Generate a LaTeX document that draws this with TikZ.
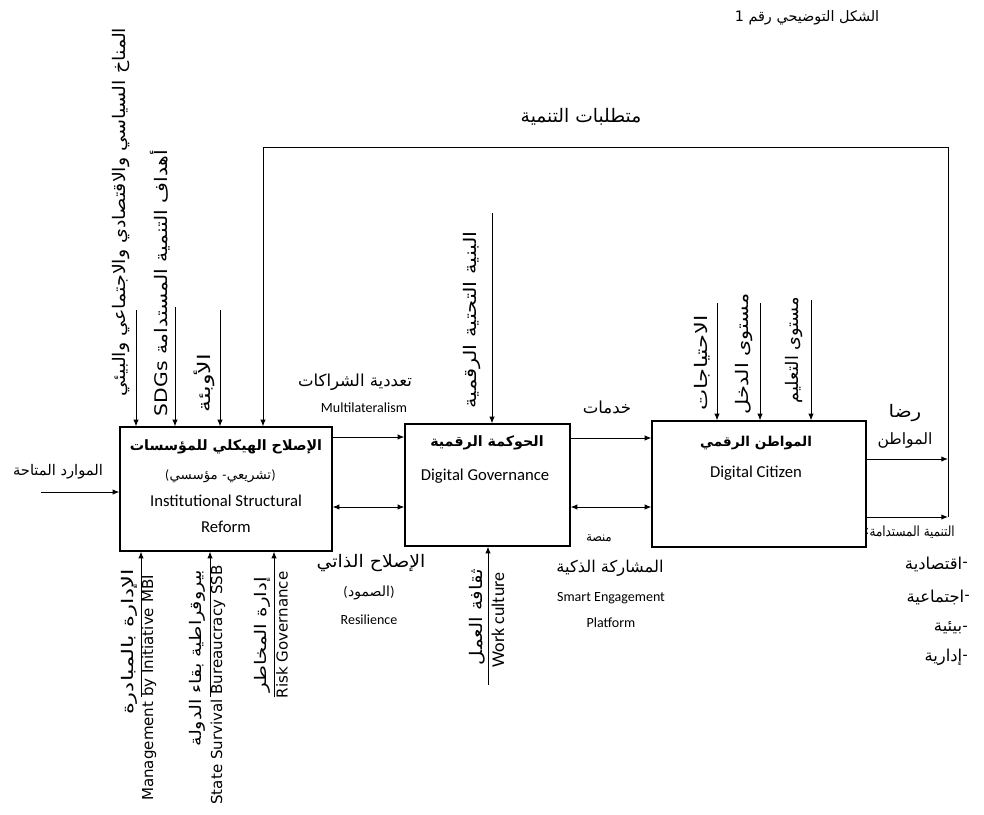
\documentclass[tikz,border=0pt]{standalone}
\usepackage{fontspec}
\usepackage{graphicx}
\setmainfont{Carlito}
\newfontfamily\ar[Script=Arabic]{DejaVu Sans}
\newfontfamily\dv{DejaVu Sans}
\TeXXeTstate=1
\usetikzlibrary{arrows.meta}
\newcommand{\AR}[1]{\mbox{\ar\beginR #1\endR}}
\newcommand{\sx}[2]{\scalebox{#1}[1]{#2}}
\newcommand{\fs}[1]{\fontsize{#1}{#1}\selectfont}
\tikzset{
  box/.style={draw, line width=0.9pt, inner sep=0pt},
  arr/.style={line width=0.75pt, -{Latex[length=5pt,width=4pt]}},
  darr/.style={line width=0.75pt, {Latex[length=5pt,width=4pt]}-{Latex[length=5pt,width=4pt]}},
  lbl/.style={inner sep=0pt},
  small/.style={inner sep=0pt, font=\fs{10.5}},
  en/.style={inner sep=0pt, font=\fs{12.5}},
  ttl/.style={inner sep=0pt, font=\fs{10.7}\bfseries},
  vl/.style={inner sep=0pt, rotate=90},
  ven/.style={inner sep=0pt, rotate=90, font=\dv\fs{11.3}},
  lst/.style={inner sep=0pt, font=\fs{12.3}, anchor=east},
  dsh/.style={inner sep=0pt, font=\fs{12.3}, anchor=east},
  pc/.style={inner sep=0pt, font=\fs{10}, anchor=east},
}
\begin{document}
\begin{tikzpicture}[x=0.75pt,y=-0.75pt]
\useasboundingbox (0,0) rectangle (984,814);
% boxes
\node[box, minimum width=159pt, minimum height=93pt] (b1) at (226,489) {};
\node[box, minimum width=123.75pt, minimum height=91.5pt] (b2) at (487.5,485) {};
\node[box, minimum width=160.5pt, minimum height=94.5pt] (b3) at (759,484) {};
% box texts
\node[ttl] (b1a) at (226,447) {\AR{الإصلاح الهيكلي للمؤسسات}};
\node[pc] (b1b5) at (276,477) {\strut)};
\node[pc] (b1b4) at (b1b5.west) {\AR{تشريعي}};
\node[pc] (b1b3) at (b1b4.west) {\strut-};
\node[pc] (b1b2) at ([xshift=-3pt]b1b3.west) {\AR{مؤسسي}};
\node[pc] (b1b1) at (b1b2.west) {\strut(};
\node[en] (b1c) at (226,501) {Institutional Structural};
\node[en] (b1d) at (226,527) {Reform};
\node[ttl] (b2a) at (487,443) {\AR{الحوكمة الرقمية}};
\node[en] (b2b) at (485,476) {Digital Governance};
\node[ttl, font=\fs{10.2}\bfseries] (b3a) at (756,443) {\AR{المواطن الرقمي}};
\node[en] (b3b) at (756,473) {Digital Citizen};
% title and requirements
\node[lbl, font=\fs{10.8}] (title) at (807,18) {\AR{الشكل التوضيحي رقم 1}};
\node[lbl, font=\fs{14}] (req) at (581,117) {\AR{متطلبات التنمية}};
% inputs above box 1
\coordinate (t1) at (136,310);
\coordinate (t2) at (175,307);
\coordinate (t3) at (220,310);
\draw[arr] (t1) -- (t1 |- b1.north);
\draw[arr] (t2) -- (t2 |- b1.north);
\draw[arr] (t3) -- (t3 |- b1.north);
\node[vl, font=\fs{13}] (v1) at (121,212) {\sx{1.1}{\AR{المناخ السياسي والاقتصادي والاجتماعي والبيئي}}};
\node[vl, font=\fs{13}] (v2) at (160,283) {\sx{1.17}{\AR{أهداف التنمية المستدامة \beginL SDGs\endL}}};
\node[vl, font=\fs{13}] (v3) at (204,383) {\sx{1.38}{\AR{الأوبئة}}};
% left input
\coordinate (l1) at (41,492);
\draw[arr] (l1) -- (l1 -| b1.west);
\node[lbl, font=\fs{11}] (res) at (58,472) {\AR{الموارد المتاحة}};
% controls below box 1
\coordinate (m1) at (141,697);
\coordinate (m2) at (210,697);
\coordinate (m3) at (274,697);
\draw[arr] (m1) -- (m1 |- b1.south);
\draw[arr] (m2) -- (m2 |- b1.south);
\draw[arr] (m3) -- (m3 |- b1.south);
\node[vl, font=\fs{12}] (m1a) at (129,642) {\sx{1.42}{\AR{الإدارة بالمبادرة}}};
\node[ven] (m1b) at (149,688) {Management by Initiative MBI};
\node[vl, font=\fs{12}] (m2a) at (197,658) {\sx{1.2}{\AR{بيروقراطية بقاء الدولة}}};
\node[ven] (m2b) at (218,685) {State Survival Bureaucracy SSB};
\node[vl, font=\fs{12}] (m3a) at (262,635) {\sx{1.25}{\AR{إدارة المخاطر}}};
\node[ven] (m3b) at (282,635) {Risk Governance};
% box1 <-> box2
\draw[arr] (b1.east |- 0,437) -- (b2.west |- 0,437);
\draw[darr] (b1.east |- 0,507) -- (b2.west |- 0,507);
\node[lbl, font=\fs{12.4}] (mla) at (355,382) {\AR{تعددية الشراكات}};
\node[small] (mlb) at (364,408) {Multilateralism};
\node[lbl, font=\fs{13}] (rsa) at (371,563) {\sx{1.09}{\AR{الإصلاح الذاتي}}};
\node[lbl, font=\fs{10.5}] (rsb) at (369,593) {\AR{الصمود}};
\node[lbl, font=\fs{10.5}, anchor=east] (rsb1) at (rsb.west) {\strut(};
\node[lbl, font=\fs{10.5}, anchor=west] (rsb2) at (rsb.east) {\strut)};
\node[small] (rsc) at (369,620) {Resilience};
% box2 top / bottom
\coordinate (g1) at (492,213);
\draw[arr] (g1) -- (g1 |- b2.north);
\node[vl, font=\fs{13}] (g1a) at (472,320) {\sx{1.22}{\AR{البنية التحتية الرقمية}}};
\coordinate (w1) at (488,685);
\draw[arr] (w1) -- (w1 |- b2.south);
\node[vl, font=\fs{13}] (w1a) at (477,617) {\sx{1.15}{\AR{ثقافة العمل}}};
\node[vl, font=\fs{13.5}] (w1b) at (498,620) {Work culture};
% box2 <-> box3
\draw[arr] (b2.east |- 0,438) -- (b3.west |- 0,438);
\draw[darr] (b2.east |- 0,507) -- (b3.west |- 0,507);
\node[lbl, font=\fs{12.4}] (srv) at (607,407) {\AR{خدمات}};
\node[lbl, font=\fs{10}] (sea) at (599,538) {\sx{0.85}{\AR{منصة}}};
\node[lbl, font=\fs{12.2}] (seb) at (610,568) {\AR{المشاركة الذكية}};
\node[small] (sec) at (611,598) {Smart Engagement};
\node[small] (sed) at (611,623) {Platform};
% box3 top
\coordinate (c1) at (717,303);
\coordinate (c2) at (760,303);
\coordinate (c3) at (811,300);
\draw[arr] (c1) -- (c1 |- b3.north);
\draw[arr] (c2) -- (c2 |- b3.north);
\draw[arr] (c3) -- (c3 |- b3.north);
\node[vl, font=\fs{13}] (c1a) at (702,363) {\sx{1.3}{\AR{الاحتياجات}}};
\node[vl, font=\fs{13}] (c2a) at (744,354) {\sx{1.2}{\AR{مستوى الدخل}}};
\node[vl, font=\fs{13}] (c3a) at (794,350) {\sx{1.02}{\AR{مستوى التعليم}}};
% outputs and feedback
\coordinate (o1) at (948,459);
\coordinate (o2) at (948,517);
\coordinate (fr) at (948,147);
\coordinate (fl) at (263,147);
\draw[arr] (b3.east |- o1) -- (o1);
\draw[arr] (b3.east |- o2) -- (o2);
\draw[arr] (o2) -- (fr) -- (fl) -- (fl |- b1.north);
\node[lbl, font=\fs{13}] (sa) at (905,413) {\sx{1.15}{\AR{رضا}}};
\node[lbl, font=\fs{11.7}] (sb) at (905,440) {\AR{المواطن}};
\node[lbl, font=\fs{10.5}, anchor=east] (sd0) at (955,532) {\sx{0.85}{\AR{التنمية المستدامة}}};
\node[lbl, font=\fs{10.5}, anchor=east] (sd0c) at (sd0.west) {\strut:};
\node[dsh] (sd1d) at (968,564) {\strut-};
\node[lst] (sd1) at (sd1d.west) {\AR{اقتصادية}};
\node[dsh] (sd2d) at (970,597) {\strut-};
\node[lst] (sd2) at (sd2d.west) {\AR{اجتماعية}};
\node[dsh] (sd3d) at (968,628) {\strut-};
\node[lst] (sd3) at (sd3d.west) {\AR{بيئية}};
\node[dsh] (sd4d) at (968,657) {\strut-};
\node[lst] (sd4) at (sd4d.west) {\AR{إدارية}};
\end{tikzpicture}
\end{document}
